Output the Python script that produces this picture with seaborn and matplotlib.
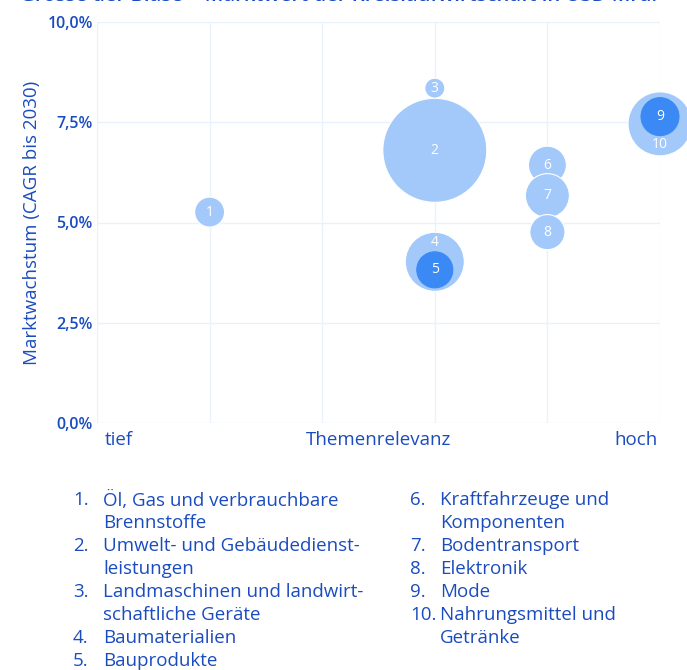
"""
Bubble chart: Themenrelevanz vs. Marktwachstum, Blasengrösse = Marktwert
"""

import numpy as np
import pandas as pd
import seaborn as sns
import matplotlib.pyplot as plt

# data
nr = [1, 2, 3, 4, 5, 6, 7, 8, 10, 9]
relevanz = [1, 3, 3, 3, 3, 4, 4, 4, 5, 5]
wachstum = [5.26, 6.80, 8.35, 4.02, 3.82, 6.43, 5.67, 4.76, 7.46, 7.64]
marktwert = [56, 676, 25, 218, 81, 90, 121, 77, 256, 90]
typ = ["hell", "hell", "hell", "hell", "dunkel", "hell", "hell", "hell", "hell", "dunkel"]

branchen = [
    "Öl, Gas und verbrauchbare\nBrennstoffe",
    "Umwelt- und Gebäudedienst-\nleistungen",
    "Landmaschinen und landwirt-\nschaftliche Geräte",
    "Baumaterialien",
    "Bauprodukte",
    "Kraftfahrzeuge und\nKomponenten",
    "Bodentransport",
    "Elektronik",
    "Mode",
    "Nahrungsmittel und\nGetränke",
]

y_ticks = [0, 2.5, 5, 7.5, 10]
y_ticklabels = ["0,0%", "2,5%", "5,0%", "7,5%", "10,0%"]

BLUE_TEXT = "#1a4cbf"
LIGHT = "#a3c9fb"
DARK = "#3b89f4"
GRID = "#e9f1fd"
FS = 13.5

df = pd.DataFrame({"nr": nr, "relevanz": relevanz, "wachstum": wachstum,
                   "marktwert": marktwert, "typ": typ})

sns.set_theme(style="white")
plt.rcParams["font.family"] = ["Open Sans", "DejaVu Sans"]

fig = plt.figure(figsize=(6.87, 6.7), dpi=100)
ax = fig.add_axes([97 / 687, 1 - 423 / 670, 563 / 687, 401 / 670])

vmax = max(marktwert)
sns.scatterplot(data=df, x="relevanz", y="wachstum", size="marktwert",
                sizes=(0, 8.29 * vmax), size_norm=(0, vmax),
                hue="typ", palette={"hell": LIGHT, "dunkel": DARK},
                edgecolor="white", linewidth=0.8, alpha=1, legend=False,
                clip_on=False, zorder=3, ax=ax)
# dark bubbles sit without a white ring
coll = ax.collections[0]
coll.set_edgecolors([DARK if t == "dunkel" else "white" for t in typ])

# number labels inside the bubbles
offsets = {4: 14, 10: -15}
for _, row in df.iterrows():
    ax.annotate(str(row["nr"]), (row["relevanz"], row["wachstum"]),
                xytext=(0, offsets.get(row["nr"], 0)), textcoords="offset points",
                ha="center", va="center", color="white", fontsize=10,
                zorder=5, annotation_clip=False)

ax.set_xlim(0, 5)
ax.set_ylim(0, 10)
ax.set_xticks(range(6))
ax.set_xticklabels([])
ax.set_yticks(y_ticks)
ax.set_yticklabels(y_ticklabels, color=BLUE_TEXT, fontsize=11.5, fontweight="semibold")
ax.tick_params(axis="both", length=0, pad=3)
ax.grid(True, color=GRID, linewidth=1)
for s in ax.spines.values():
    s.set_visible(False)
ax.set_xlabel("")
ax.set_ylabel("Marktwachstum (CAGR bis 2030)", color=BLUE_TEXT, fontsize=FS, labelpad=5)

# x axis descriptors
ax.text(0.014, -0.02, "tief", transform=ax.transAxes, ha="left", va="top",
        color=BLUE_TEXT, fontsize=FS)
ax.text(0.5, -0.02, "Themenrelevanz", transform=ax.transAxes, ha="center", va="top",
        color=BLUE_TEXT, fontsize=FS)
ax.text(0.995, -0.02, "hoch", transform=ax.transAxes, ha="right", va="top",
        color=BLUE_TEXT, fontsize=FS)

# title, cut off at the top edge like the source
fig.text(20 / 687, 1 + 4 / 670, "Grösse der Blase = Marktwert der Kreislaufwirtschaft in USD Mrd.",
         ha="left", va="center", color=BLUE_TEXT, fontsize=14.6, fontweight="semibold")

# numbered list below the chart
line_h = 23 / 670
y0 = 1 - 500 / 670
row = 0
for i, name in enumerate(branchen[:5]):
    fig.text(73 / 687, y0 - row * line_h, f"{i + 1}.", ha="left", va="center",
             color=BLUE_TEXT, fontsize=FS)
    for j, part in enumerate(name.split("\n")):
        fig.text(103 / 687, y0 - (row + j) * line_h, part, ha="left", va="center",
                 color=BLUE_TEXT, fontsize=FS)
    row += len(name.split("\n"))
row = 0
for i, name in enumerate(branchen[5:]):
    fig.text(410 / 687, y0 - row * line_h, f"{i + 6}.", ha="left", va="center",
             color=BLUE_TEXT, fontsize=FS)
    for j, part in enumerate(name.split("\n")):
        fig.text(440 / 687, y0 - (row + j) * line_h, part, ha="left", va="center",
                 color=BLUE_TEXT, fontsize=FS)
    row += len(name.split("\n"))

fig.savefig("out.png", dpi=100)
